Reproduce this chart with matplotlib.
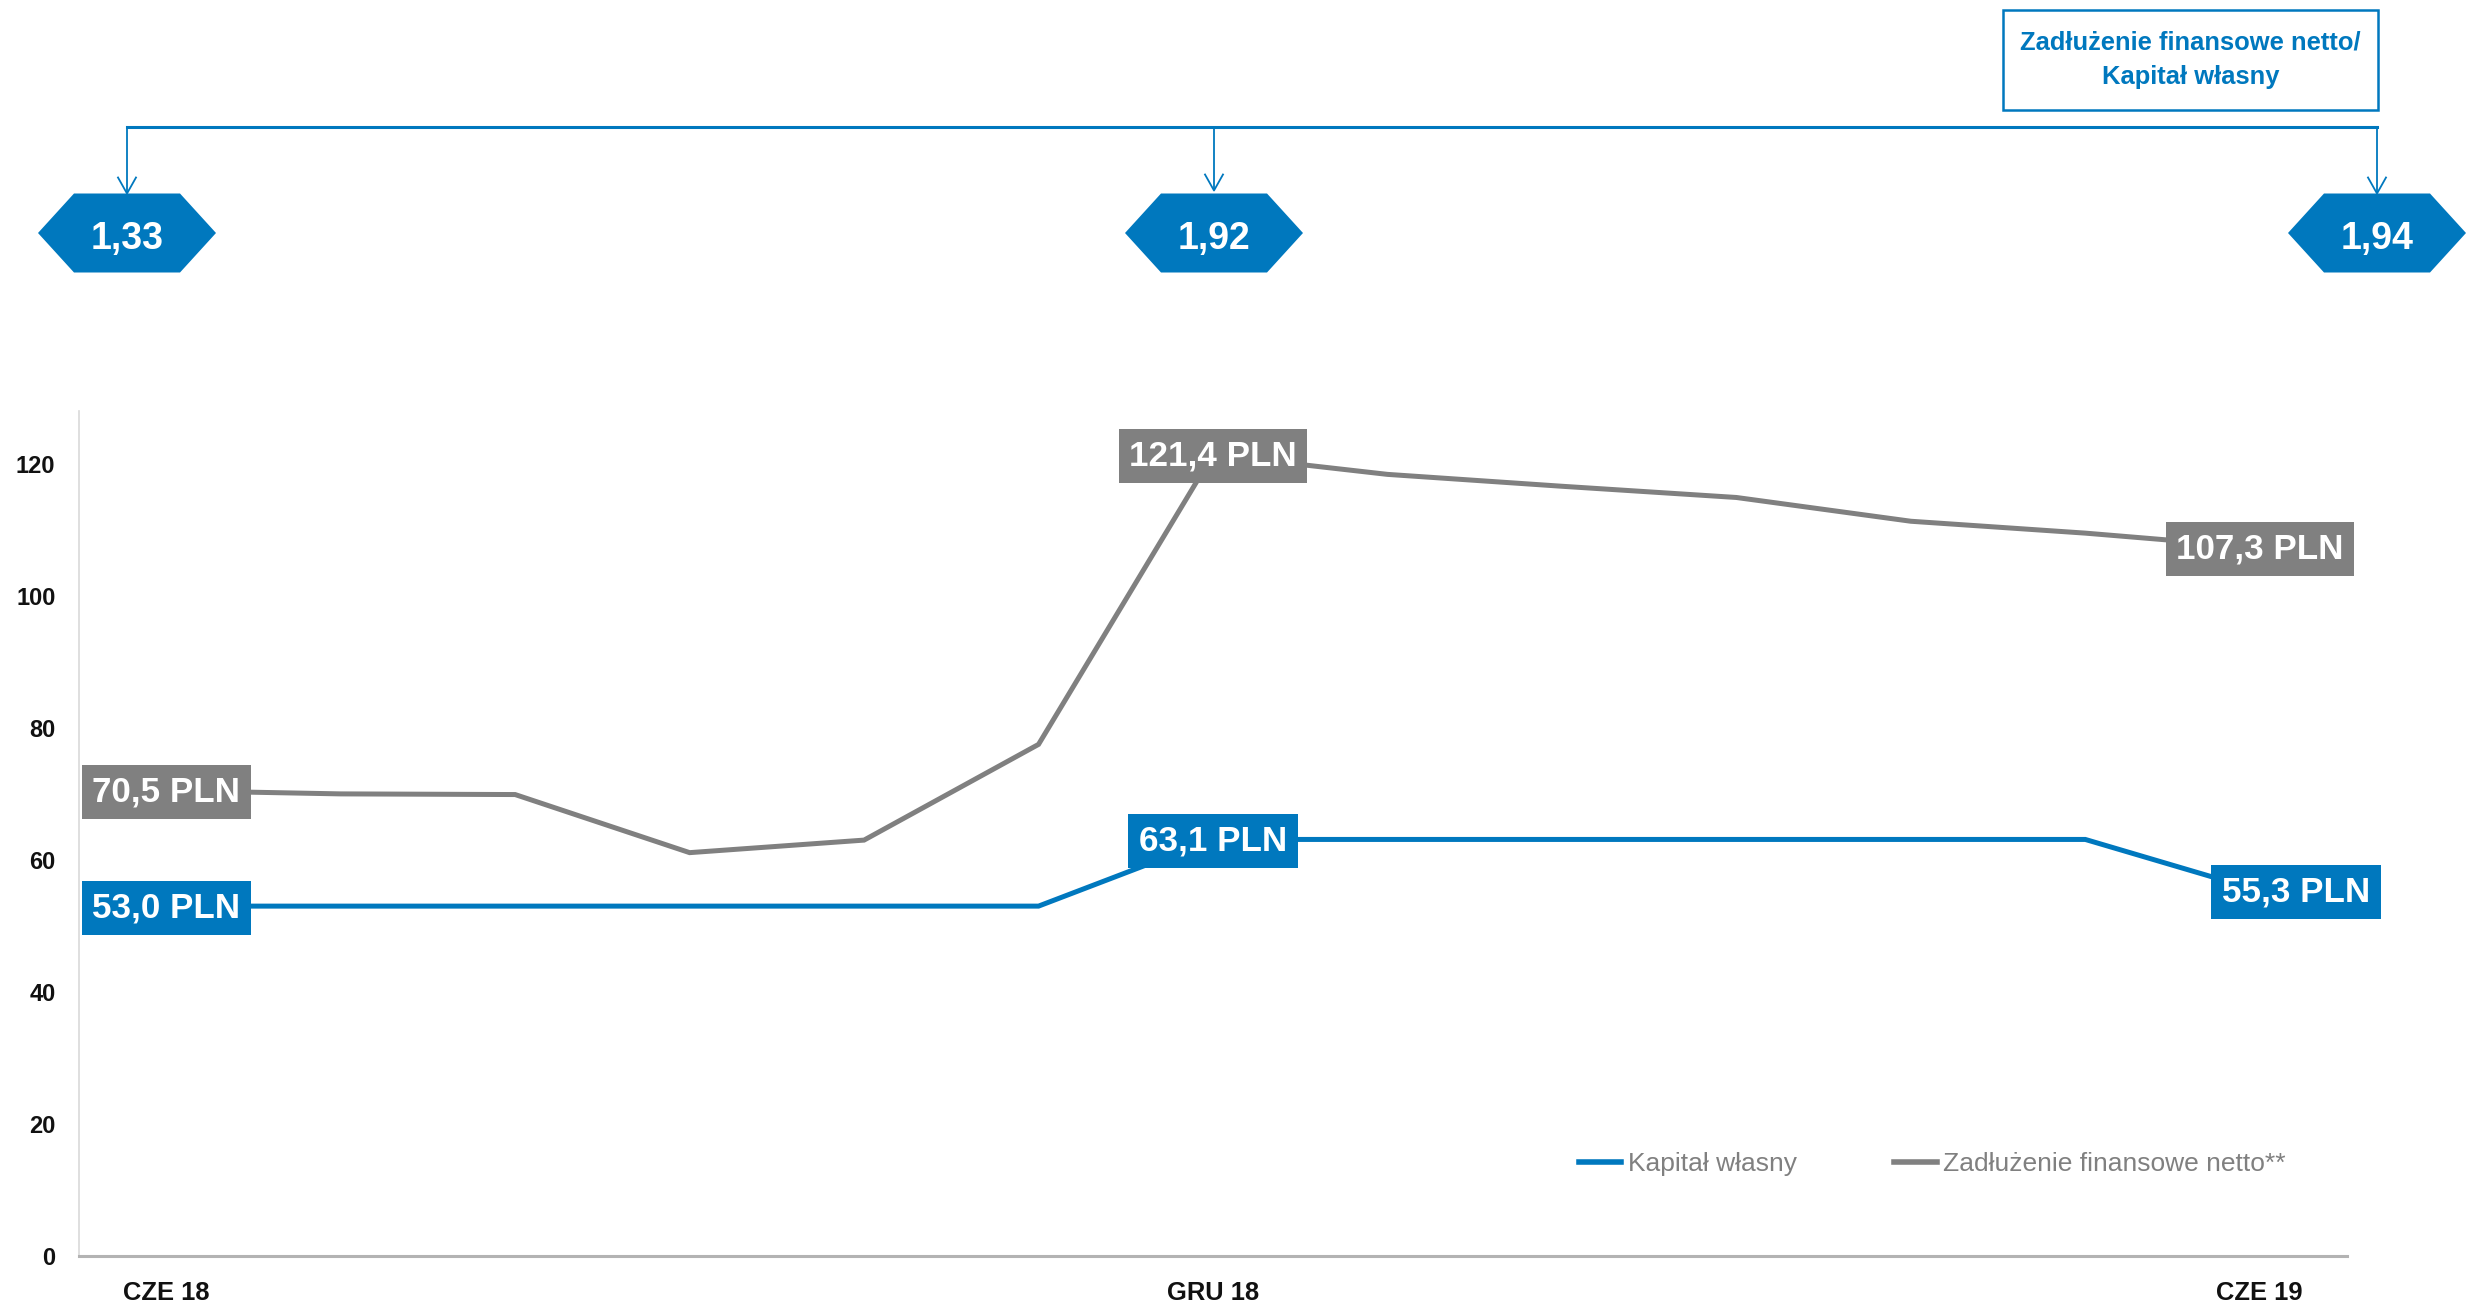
import matplotlib
matplotlib.use("Agg")
import matplotlib.pyplot as plt
from matplotlib import font_manager
from matplotlib.patches import Polygon, Rectangle
from matplotlib.lines import Line2D

# ---------------- data ----------------
months = ["CZE 18", "LIP 18", "SIE 18", "WRZ 18", "PAŹ 18", "LIS 18", "GRU 18",
          "STY 19", "LUT 19", "MAR 19", "KWI 19", "MAJ 19", "CZE 19"]
shown_ticks = ["CZE 18", "GRU 18", "CZE 19"]
kapital = [53.0, 53.0, 53.0, 53.0, 53.0, 53.0, 63.1, 63.1, 63.1, 63.1, 63.1, 63.1, 55.3]
zadluzenie = [70.5, 70.0, 69.9, 61.1, 63.0, 77.5, 121.4, 118.4, 116.6, 114.9, 111.3, 109.5, 107.3]
label_idx = [0, 6, 12]
ratios = [1.33, 1.92, 1.94]
series_names = ["Kapitał własny", "Zadłużenie finansowe netto**"]
box_title = ["Zadłużenie finansowe netto/", "Kapitał własny"]
yticks = [0, 20, 40, 60, 80, 100, 120]

# ---------------- style ----------------
BLUE = "#0078BE"
GREY = "#808080"
W, H = 2481, 1308

avail = {f.name for f in font_manager.fontManager.ttflist}
NARROW = "Liberation Sans Narrow" if "Liberation Sans Narrow" in avail else None
REG = "Liberation Sans" if "Liberation Sans" in avail else "DejaVu Sans"
plt.rcParams["font.family"] = [REG, "DejaVu Sans"]
NFAM = [NARROW or REG, "DejaVu Sans"]
ytick_size = 19 if NARROW else 17
hex_size = 30 if NARROW else 27
leg_size = 23 if NARROW else 19

def fx(px):
    return px / W

def fy(py):
    return 1 - py / H

fig = plt.figure(figsize=(W / 100, H / 100), dpi=100)
ax_left, ax_right, ax_bottom, ax_top = 79, 2347, 1256, 411
ax = fig.add_axes([fx(ax_left), fy(ax_bottom), fx(ax_right - ax_left), (ax_bottom - ax_top) / H])

x = list(range(len(months)))
ax.plot(x, kapital, color=BLUE, lw=3.6, solid_joinstyle="miter", zorder=3, label=series_names[0])
ax.plot(x, zadluzenie, color=GREY, lw=3.6, solid_joinstyle="miter", zorder=3, label=series_names[1])

ax.set_xlim(-0.5, len(months) - 0.5)
ax.set_ylim(0, 128)

ax.set_yticks(yticks)
ax.set_yticklabels([str(t) for t in yticks], family=NFAM,
                   fontweight="bold", fontsize=ytick_size, color="#111111")
tick_pos = [months.index(m) for m in shown_ticks]
ax.set_xticks(tick_pos)
ax.set_xticklabels(shown_ticks, fontweight="bold", fontsize=18.4, color="#111111")
ax.tick_params(axis="y", length=0, pad=17)
ax.tick_params(axis="x", length=0, pad=18)

for s in ["top", "right"]:
    ax.spines[s].set_visible(False)
ax.spines["left"].set_color("#D9D9D9")
ax.spines["left"].set_linewidth(1.2)
ax.spines["bottom"].set_color("#B3B3B3")
ax.spines["bottom"].set_linewidth(2.2)

# data labels
def fmt(v):
    return f"{v:.1f}".replace(".", ",") + " PLN"

for series, col in [(kapital, BLUE), (zadluzenie, GREY)]:
    for i in label_idx:
        dx = 0
        if i == len(months) - 1 and col == BLUE:
            dx = 26
        ax.annotate(fmt(series[i]), xy=(i, series[i]), xytext=(dx, -1),
                    textcoords="offset points", ha="center", va="center",
                    fontsize=25.2, fontweight="bold", color="white", zorder=5,
                    bbox=dict(boxstyle="square,pad=0.3", fc=col, ec="none"))

# legend
leg = ax.legend(loc="center left", bbox_to_anchor=(fx(1579), fy(1164)),
                bbox_transform=fig.transFigure, ncol=2, frameon=False,
                handlelength=1.6, handletextpad=0.25, columnspacing=3.7,
                borderpad=0, borderaxespad=0,
                prop={"family": NFAM, "size": leg_size})
for t in leg.get_texts():
    t.set_color(GREY)
for h in leg.get_lines():
    h.set_linewidth(4)

# ---------------- top ratio annotations ----------------
hex_cx = [127, 1214, 2377]
hex_cy = 233
hw, hf, hh = 89, 53, 39.5
bracket_y = 127
for cx, r in zip(hex_cx, ratios):
    pts = [(cx - hw, hex_cy), (cx - hf, hex_cy - hh), (cx + hf, hex_cy - hh),
           (cx + hw, hex_cy), (cx + hf, hex_cy + hh), (cx - hf, hex_cy + hh)]
    fig.add_artist(Polygon([(fx(a), fy(b)) for a, b in pts], closed=True,
                           transform=fig.transFigure, fc=BLUE, ec="none"))
    fig.text(fx(cx), fy(hex_cy + 6), f"{r:.2f}".replace(".", ","), ha="center", va="center",
             family=NFAM, fontweight="bold", fontsize=hex_size, color="white")
    tip = hex_cy - hh - (3 if cx == hex_cx[1] else 0)
    fig.add_artist(Line2D([fx(cx), fx(cx)], [fy(bracket_y), fy(tip - 2)],
                          transform=fig.transFigure, color=BLUE, lw=1.3))
    fig.add_artist(Line2D([fx(cx - 9), fx(cx), fx(cx + 9)], [fy(tip - 16), fy(tip), fy(tip - 16)],
                          transform=fig.transFigure, color=BLUE, lw=1.3))

fig.add_artist(Line2D([fx(hex_cx[0]), fx(hex_cx[-1])], [fy(bracket_y), fy(bracket_y)],
                      transform=fig.transFigure, color=BLUE, lw=2.2))

# title box
bx0, by0, bx1, by1 = 2003, 10, 2378, 110
fig.add_artist(Rectangle((fx(bx0), fy(by1)), fx(bx1 - bx0), (by1 - by0) / H,
                         transform=fig.transFigure, fill=False, ec=BLUE, lw=1.8))
for line, base in zip(box_title, [50, 84]):
    fig.text(fx((bx0 + bx1) / 2), fy(base), line, ha="center", va="baseline",
             fontweight="bold", fontsize=18.4, color=BLUE)

fig.savefig("out.png", dpi=100, facecolor="white")
